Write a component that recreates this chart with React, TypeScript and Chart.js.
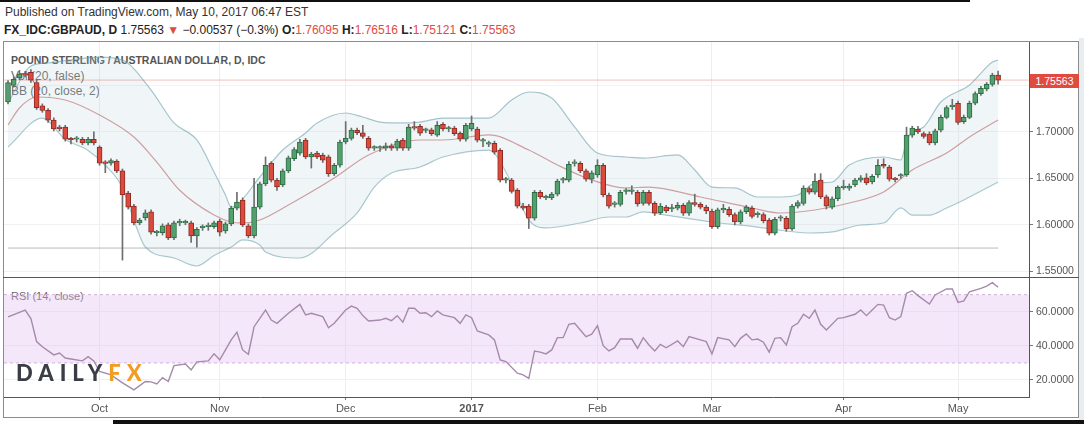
import { useEffect, useRef } from 'react';
import { Chart, registerables } from 'chart.js';
Chart.register(...registerables);

// ---------- DATA ----------
const opens = [
  1.732, 1.750, 1.758, 1.762, 1.764, 1.753, 1.728, 1.723, 1.7126, 1.704,
  1.705, 1.692, 1.692, 1.692, 1.688, 1.692, 1.6835, 1.6665, 1.6663, 1.6685,
  1.658, 1.634, 1.620, 1.602, 1.6075, 1.614, 1.5915, 1.5915, 1.600, 1.586,
  1.602, 1.602, 1.602, 1.588, 1.597, 1.598, 1.598, 1.604, 1.5935, 1.601,
  1.618, 1.6267, 1.599, 1.588, 1.619, 1.644, 1.6664, 1.648, 1.643, 1.658,
  1.671, 1.677, 1.691, 1.673, 1.677, 1.675, 1.673, 1.655, 1.664, 1.689,
  1.693, 1.7018, 1.699, 1.693, 1.6825, 1.6825, 1.6825, 1.685, 1.6825, 1.691,
  1.6825, 1.705, 1.706, 1.7015, 1.702, 1.6965, 1.708, 1.703, 1.704, 1.6985,
  1.692, 1.703, 1.703, 1.690, 1.6868, 1.6876, 1.680, 1.648, 1.648, 1.637,
  1.620, 1.620, 1.607, 1.635, 1.629, 1.629, 1.633, 1.648, 1.648, 1.666,
  1.666, 1.658, 1.649, 1.6535, 1.664, 1.632, 1.622, 1.622, 1.636, 1.636,
  1.635, 1.623, 1.635, 1.623, 1.613, 1.619, 1.617, 1.618, 1.621, 1.6125,
  1.624, 1.622, 1.619, 1.6147, 1.598, 1.616, 1.6165, 1.611, 1.603, 1.614,
  1.618, 1.611, 1.611, 1.605, 1.591, 1.607, 1.607, 1.5955, 1.620, 1.623,
  1.639, 1.635, 1.648, 1.630, 1.619, 1.628, 1.640, 1.6395, 1.643, 1.648,
  1.6505, 1.646, 1.6535, 1.665, 1.662, 1.649, 1.6525, 1.6535, 1.6965, 1.703,
  1.698, 1.6975, 1.688, 1.7018, 1.7155, 1.727, 1.7307, 1.711, 1.7155, 1.7307,
  1.741, 1.746, 1.751, 1.76095,
];
const highs = [
  1.755, 1.759, 1.766, 1.765, 1.767, 1.756, 1.730, 1.725, 1.715, 1.707,
  1.707, 1.694, 1.695, 1.694, 1.694, 1.700, 1.685, 1.669, 1.671, 1.670,
  1.660, 1.636, 1.622, 1.607, 1.616, 1.616, 1.594, 1.601, 1.602, 1.604,
  1.606, 1.605, 1.604, 1.597, 1.600, 1.602, 1.604, 1.606, 1.603, 1.620,
  1.635, 1.629, 1.601, 1.650, 1.646, 1.673, 1.668, 1.650, 1.660, 1.674,
  1.683, 1.692, 1.693, 1.678, 1.679, 1.677, 1.675, 1.666, 1.691, 1.711,
  1.704, 1.704, 1.707, 1.695, 1.685, 1.685, 1.688, 1.687, 1.692, 1.693,
  1.708, 1.711, 1.708, 1.704, 1.704, 1.711, 1.710, 1.706, 1.706, 1.700,
  1.709, 1.717, 1.705, 1.693, 1.690, 1.690, 1.682, 1.651, 1.650, 1.639,
  1.623, 1.622, 1.637, 1.637, 1.632, 1.635, 1.649, 1.651, 1.668, 1.670,
  1.668, 1.660, 1.658, 1.670, 1.666, 1.634, 1.625, 1.637, 1.639, 1.642,
  1.637, 1.637, 1.637, 1.625, 1.623, 1.621, 1.622, 1.624, 1.623, 1.626,
  1.633, 1.624, 1.621, 1.617, 1.618, 1.622, 1.619, 1.613, 1.616, 1.621,
  1.620, 1.614, 1.613, 1.607, 1.608, 1.610, 1.609, 1.622, 1.626, 1.642,
  1.641, 1.655, 1.655, 1.632, 1.630, 1.642, 1.648, 1.644, 1.650, 1.653,
  1.655, 1.654, 1.670, 1.671, 1.664, 1.651, 1.655, 1.705, 1.706, 1.706,
  1.700, 1.700, 1.703, 1.718, 1.728, 1.735, 1.733, 1.718, 1.733, 1.743,
  1.749, 1.753, 1.763, 1.76516,
];
const lows = [
  1.730, 1.748, 1.756, 1.759, 1.753, 1.724, 1.721, 1.710, 1.701, 1.701,
  1.690, 1.687, 1.689, 1.686, 1.686, 1.686, 1.664, 1.656, 1.664, 1.656,
  1.562, 1.617, 1.600, 1.600, 1.605, 1.590, 1.588, 1.589, 1.584, 1.584,
  1.599, 1.600, 1.581, 1.576, 1.594, 1.594, 1.596, 1.588, 1.591, 1.599,
  1.616, 1.598, 1.586, 1.586, 1.617, 1.642, 1.646, 1.637, 1.641, 1.656,
  1.669, 1.675, 1.671, 1.661, 1.671, 1.667, 1.652, 1.653, 1.662, 1.687,
  1.691, 1.697, 1.693, 1.680, 1.680, 1.679, 1.680, 1.680, 1.680, 1.680,
  1.680, 1.702, 1.696, 1.699, 1.696, 1.695, 1.701, 1.700, 1.696, 1.690,
  1.690, 1.701, 1.689, 1.684, 1.684, 1.676, 1.646, 1.645, 1.634, 1.618,
  1.616, 1.596, 1.605, 1.628, 1.627, 1.627, 1.631, 1.645, 1.646, 1.663,
  1.656, 1.647, 1.645, 1.651, 1.630, 1.618, 1.619, 1.620, 1.633, 1.633,
  1.620, 1.621, 1.621, 1.610, 1.611, 1.613, 1.614, 1.616, 1.610, 1.610,
  1.620, 1.617, 1.612, 1.596, 1.596, 1.613, 1.609, 1.600, 1.601, 1.612,
  1.607, 1.608, 1.602, 1.589, 1.589, 1.604, 1.593, 1.594, 1.618, 1.621,
  1.633, 1.633, 1.628, 1.617, 1.617, 1.626, 1.638, 1.637, 1.641, 1.646,
  1.643, 1.644, 1.651, 1.661, 1.647, 1.646, 1.650, 1.652, 1.694, 1.698,
  1.693, 1.686, 1.686, 1.700, 1.714, 1.724, 1.708, 1.709, 1.714, 1.729,
  1.739, 1.744, 1.749, 1.75121,
];
const closes = [
  1.753, 1.7565, 1.762, 1.761, 1.7555, 1.726, 1.723, 1.7126, 1.703, 1.7035,
  1.692, 1.6915, 1.692, 1.688, 1.692, 1.688, 1.6663, 1.666, 1.669, 1.658,
  1.632, 1.619, 1.602, 1.605, 1.613, 1.592, 1.5915, 1.599, 1.586, 1.602,
  1.602, 1.602, 1.588, 1.595, 1.597, 1.598, 1.602, 1.592, 1.601, 1.618,
  1.6245, 1.600, 1.588, 1.619, 1.644, 1.664, 1.648, 1.6406, 1.658, 1.672,
  1.681, 1.689, 1.673, 1.676, 1.673, 1.6696, 1.6546, 1.664, 1.689, 1.693,
  1.7018, 1.699, 1.695, 1.6825, 1.6825, 1.6825, 1.685, 1.6825, 1.690, 1.6825,
  1.705, 1.704, 1.6985, 1.702, 1.698, 1.707, 1.703, 1.703, 1.698, 1.692,
  1.707, 1.709, 1.691, 1.690, 1.6868, 1.678, 1.648, 1.648, 1.636, 1.620,
  1.618, 1.607, 1.635, 1.630, 1.629, 1.633, 1.647, 1.648, 1.665, 1.666,
  1.658, 1.649, 1.656, 1.664, 1.632, 1.620, 1.622, 1.635, 1.636, 1.636,
  1.6225, 1.635, 1.623, 1.6125, 1.620, 1.615, 1.617, 1.621, 1.6125, 1.624,
  1.622, 1.619, 1.615, 1.598, 1.616, 1.616, 1.611, 1.603, 1.614, 1.619,
  1.609, 1.611, 1.6045, 1.591, 1.606, 1.607, 1.5955, 1.620, 1.624, 1.6395,
  1.635, 1.647, 1.630, 1.620, 1.628, 1.6405, 1.640, 1.6415, 1.648, 1.6505,
  1.645, 1.652, 1.664, 1.663, 1.649, 1.6485, 1.653, 1.6965, 1.704, 1.700,
  1.695, 1.688, 1.701, 1.7155, 1.726, 1.728, 1.710, 1.7155, 1.7307, 1.741,
  1.7468, 1.751, 1.761, 1.75563,
];

const bbUpperIdx = [0, 4, 7, 16, 20, 25, 29, 33, 36, 38, 39, 40, 44, 48, 52, 54, 59, 62, 65, 69, 72, 76, 84, 88, 91, 95, 99, 103, 108, 111, 117, 120, 123, 127, 131, 135, 138, 141, 144, 147, 153, 156, 157, 158, 160, 163, 168, 172, 173];
const bbUpperVal = [1.731, 1.7708, 1.774, 1.7804, 1.7772, 1.7449, 1.7095, 1.6912, 1.6568, 1.632, 1.6191, 1.6213, 1.6514, 1.6804, 1.6987, 1.7095, 1.7202, 1.7159, 1.7105, 1.7095, 1.7105, 1.7148, 1.7148, 1.7342, 1.7428, 1.7363, 1.7052, 1.6772, 1.6729, 1.6718, 1.6751, 1.6589, 1.6406, 1.6396, 1.6299, 1.6299, 1.632, 1.6449, 1.646, 1.6643, 1.6729, 1.6697, 1.690, 1.700, 1.7052, 1.732, 1.7503, 1.775, 1.7772];

const bbMiddleIdx = [0, 2, 5, 10, 16, 22, 26, 30, 36, 39, 41, 44, 49, 57, 63, 72, 76, 84, 91, 96, 102, 108, 112, 121, 130, 135, 141, 147, 153, 158, 164, 168, 173];
const bbMiddleVal = [1.7073, 1.7256, 1.7374, 1.7342, 1.7181, 1.6944, 1.6675, 1.6372, 1.6105, 1.603, 1.602, 1.6052, 1.6213, 1.6503, 1.6751, 1.6912, 1.6912, 1.6966, 1.6804, 1.6643, 1.6482, 1.6396, 1.6406, 1.6299, 1.6181, 1.6127, 1.6159, 1.6234, 1.6353, 1.6589, 1.6772, 1.6944, 1.7127];

const bbLowerIdx = [0, 6, 10, 14, 17, 20, 22, 24, 29, 33, 36, 39, 41, 44, 45, 51, 57, 61, 64, 67, 72, 76, 84, 88, 91, 94, 100, 105, 108, 111, 115, 123, 131, 140, 144, 149, 153, 156, 158, 161, 164, 167, 173];
const bbLowerVal = [1.6837, 1.7148, 1.692, 1.680, 1.664, 1.640, 1.605, 1.5761, 1.5643, 1.5557, 1.567, 1.5761, 1.5837, 1.5783, 1.5708, 1.5643, 1.5912, 1.6127, 1.6406, 1.6557, 1.6622, 1.6729, 1.6804, 1.6449, 1.6052, 1.5966, 1.6019, 1.6084, 1.6084, 1.6138, 1.6105, 1.603, 1.5976, 1.5912, 1.5923, 1.5998, 1.6019, 1.6181, 1.6105, 1.6105, 1.6181, 1.6267, 1.646];

const volLevel = [1.575];

const rsiIdx = [0, 3, 4, 5, 6, 8, 9, 10, 11, 13, 14, 15, 16, 18, 20, 22, 24, 25, 26, 27, 28, 29, 31, 32, 33, 35, 36, 37, 39, 40, 41, 42, 43, 45, 46, 47, 49, 51, 52, 53, 55, 56, 57, 59, 60, 61, 62, 63, 65, 66, 67, 68, 69, 70, 71, 72, 73, 74, 75, 76, 78, 79, 80, 81, 82, 84, 85, 86, 87, 89, 90, 91, 92, 93, 94, 95, 96, 97, 98, 99, 101, 102, 103, 104, 105, 106, 107, 109, 110, 111, 112, 113, 114, 115, 117, 118, 119, 121, 122, 123, 124, 126, 127, 128, 129, 130, 131, 132, 133, 134, 135, 136, 137, 138, 139, 140, 141, 142, 143, 145, 146, 148, 149, 150, 151, 152, 153, 154, 155, 156, 157, 158, 159, 161, 162, 164, 165, 166, 167, 168, 170, 171, 172, 173];
const rsiVal = [57, 61, 56, 42.5, 39.5, 34.7, 35.8, 32.9, 32.3, 31.2, 33.7, 31.2, 25, 23, 18.3, 14.2, 19.1, 18.9, 17.7, 21.4, 19.1, 28.4, 29.4, 25.9, 30.6, 31.2, 35.3, 31.8, 43.5, 48, 37.6, 35.1, 51.2, 61, 55.1, 53.2, 59.1, 64.3, 58.1, 59.1, 57.1, 50.6, 53.2, 61, 63.3, 62, 57.7, 54.6, 55.1, 56.1, 54.7, 57.7, 53.8, 62, 62, 59.1, 59.4, 57.1, 60.4, 58.1, 56.5, 53.2, 58.1, 56.5, 48.7, 46.4, 43.5, 31.8, 30.8, 24, 23, 21, 37, 36.3, 35.3, 37.6, 44.8, 44.8, 52.6, 53.2, 45.4, 46.8, 51.8, 40.1, 37, 38.9, 44, 44, 38.6, 44.8, 40.5, 37, 40.9, 38.9, 42.9, 39.5, 45.4, 43.5, 42.5, 35.3, 44.8, 43.5, 39.5, 44.4, 47, 43.5, 44, 42.1, 36.3, 44.4, 44.8, 40.5, 51.2, 53.2, 58.5, 56.1, 61, 52.6, 49.3, 56.1, 56.5, 58.5, 61, 57.7, 61, 64.3, 63.9, 56.5, 55.1, 57.1, 70.8, 72.3, 69.4, 64.5, 69.8, 73.3, 73.3, 65.5, 66.3, 71.7, 73.7, 75, 77, 74.3];
const rsiBands = [70, 30];

const monthTickIdx = [16, 37, 59, 81, 103, 123, 146, 166];
const monthTickLabels = ['Oct', 'Nov', 'Dec', '2017', 'Feb', 'Mar', 'Apr', 'May'];
const priceTicks = [1.55, 1.6, 1.65, 1.7, 1.75];
const rsiTicks = [20, 40, 60];

const symbol = 'FX_IDC:GBPAUD, D';
const title = 'POUND STERLING / AUSTRALIAN DOLLAR, D, IDC';
const published = 'Published on TradingView.com, May 10, 2017 06:47 EST';

// ---------- STYLE ----------
const FONT = '"Liberation Sans", Arial, sans-serif';
const X_MIN = -0.7;
const X_MAX = 178.4;
const UP = '#53a06f';
const UP_B = '#2d6b45';
const DOWN = '#dc4a3d';
const DOWN_B = '#8e2a22';
const RED = '#df4b3f';

const n = closes.length;
const barIdx = closes.map((_, i) => i);
const last = n - 1;
const change = closes[last] - closes[last - 1];
const pct = (change / closes[last - 1]) * 100;
const minus = (s: string) => s.replace('-', '\u2212');

function xScale(showLabels: boolean): any {
  return {
    type: 'linear',
    min: X_MIN,
    max: X_MAX,
    offset: false,
    grid: {
      offset: false,
      color: '#eceef1',
      drawTicks: showLabels,
      tickLength: 3,
      tickColor: '#777',
    },
    border: { display: showLabels, color: '#555' },
    ticks: {
      display: showLabels,
      autoSkip: false,
      maxRotation: 0,
      padding: 2,
      color: '#555',
      font: (ctx: any) => ({
        size: 11,
        family: FONT,
        weight: monthTickLabels[ctx.index] === '2017' ? 'bold' : 'normal',
      }),
      callback: (_v: any, i: number) => monthTickLabels[i],
    },
    afterBuildTicks: (s: any) => {
      s.ticks = monthTickIdx.map((v) => ({ value: v }));
    },
    afterFit: (s: any) => {
      s.height = showLabels ? 21 : 0;
      s.paddingLeft = 0;
      s.paddingRight = 0;
    },
  };
}

function yScale(min: number, max: number, ticks: number[], digits: number): any {
  return {
    type: 'linear',
    position: 'right',
    min,
    max,
    grid: { color: '#f0f1f3', tickLength: 4, tickColor: '#777' },
    border: { display: true, color: '#555' },
    ticks: {
      color: '#555',
      padding: 3,
      font: { size: 10.5, family: FONT },
      callback: (v: number) => Number(v).toFixed(digits),
    },
    afterBuildTicks: (s: any) => {
      s.ticks = ticks.map((v) => ({ value: v }));
    },
    afterFit: (s: any) => {
      s.width = 50;
      s.paddingTop = 0;
      s.paddingBottom = 0;
    },
  };
}

const pts = (idx: number[], val: number[]) => idx.map((x, i) => ({ x, y: val[i] }));

function priceConfig(): any {
  const isUp = (i: number) => closes[i] >= opens[i];
  return {
    type: 'bar',
    data: {
      datasets: [
        {
          type: 'bar',
          order: 0,
          data: barIdx.map((i) => ({ x: i, y: [opens[i], closes[i]] })),
          backgroundColor: barIdx.map((i) => (isUp(i) ? UP : DOWN)),
          borderColor: barIdx.map((i) => (isUp(i) ? UP_B : DOWN_B)),
          borderWidth: 1,
          borderSkipped: false,
          barThickness: 5,
          minBarLength: 1.5,
          grouped: false,
        },
        {
          type: 'bar',
          order: 1,
          data: barIdx.map((i) => ({ x: i, y: [lows[i], highs[i]] })),
          backgroundColor: '#6e6e6e',
          borderWidth: 0,
          barThickness: 1,
          grouped: false,
        },
        {
          type: 'line',
          order: 3,
          data: [
            { x: X_MIN, y: closes[last] },
            { x: X_MAX, y: closes[last] },
          ],
          borderColor: 'rgba(223,75,63,0.35)',
          borderWidth: 1,
          pointRadius: 0,
          fill: false,
        },
        {
          type: 'line',
          order: 4,
          data: [
            { x: 0, y: volLevel[0] },
            { x: last, y: volLevel[0] },
          ],
          borderColor: 'rgba(140,140,140,0.6)',
          borderWidth: 1,
          pointRadius: 0,
          fill: false,
        },
        {
          type: 'line',
          order: 5,
          data: pts(bbMiddleIdx, bbMiddleVal),
          borderColor: 'rgba(185,100,100,0.6)',
          borderWidth: 1.2,
          pointRadius: 0,
          cubicInterpolationMode: 'monotone',
          fill: false,
        },
        {
          type: 'line',
          order: 7,
          data: pts(bbLowerIdx, bbLowerVal),
          borderColor: 'rgba(110,160,172,0.6)',
          borderWidth: 1.2,
          pointRadius: 0,
          cubicInterpolationMode: 'monotone',
          fill: false,
        },
        {
          type: 'line',
          order: 6,
          data: pts(bbUpperIdx, bbUpperVal),
          borderColor: 'rgba(110,160,172,0.6)',
          borderWidth: 1.2,
          pointRadius: 0,
          cubicInterpolationMode: 'monotone',
          fill: '-1',
          backgroundColor: 'rgba(178,212,222,0.2)',
        },
      ],
    },
    options: {
      animation: false,
      responsive: false,
      maintainAspectRatio: false,
      layout: { padding: 0 },
      plugins: {
        legend: { display: false },
        tooltip: { enabled: false },
        filler: { propagate: false },
      },
      scales: {
        x: xScale(false),
        y: yScale(1.54387, 1.79656, priceTicks, 5),
      },
    },
  };
}

function rsiConfig(): any {
  return {
    type: 'line',
    data: {
      datasets: [
        {
          order: 0,
          data: pts(rsiIdx, rsiVal),
          borderColor: '#a58aaa',
          borderWidth: 1.4,
          pointRadius: 0,
          fill: false,
        },
        {
          order: 5,
          data: [
            { x: X_MIN, y: rsiBands[0] },
            { x: X_MAX, y: rsiBands[0] },
          ],
          borderColor: '#cdb2d6',
          borderDash: [3, 3],
          borderWidth: 1,
          pointRadius: 0,
          fill: '+1',
          backgroundColor: 'rgba(226,186,240,0.35)',
        },
        {
          order: 6,
          data: [
            { x: X_MIN, y: rsiBands[1] },
            { x: X_MAX, y: rsiBands[1] },
          ],
          borderColor: '#cdb2d6',
          borderDash: [3, 3],
          borderWidth: 1,
          pointRadius: 0,
          fill: false,
        },
      ],
    },
    options: {
      animation: false,
      responsive: false,
      maintainAspectRatio: false,
      layout: { padding: 0 },
      plugins: {
        legend: { display: false },
        tooltip: { enabled: false },
        filler: { propagate: false },
      },
      scales: {
        x: xScale(true),
        y: yScale(10.04, 79.74, rsiTicks, 4),
      },
    },
  };
}

const abs = (s: any): any => ({ position: 'absolute', ...s });

export default function App() {
  const priceRef = useRef<HTMLCanvasElement>(null);
  const rsiRef = useRef<HTMLCanvasElement>(null);

  useEffect(() => {
    const c1 = new Chart(priceRef.current as HTMLCanvasElement, priceConfig());
    const c2 = new Chart(rsiRef.current as HTMLCanvasElement, rsiConfig());
    return () => {
      c1.destroy();
      c2.destroy();
    };
  }, []);

  const redVal = { color: RED };
  return (
    <div
      style={abs({
        left: 0,
        top: 0,
        width: 1084,
        height: 424,
        overflow: 'hidden',
        background: '#ffffff',
        fontFamily: FONT,
      })}
    >
      <div style={abs({ left: 0, top: 0, width: 970, height: 2, background: '#111' })} />
      <div style={abs({ left: 5, top: 5, fontSize: 12, lineHeight: '14px', color: '#333', whiteSpace: 'nowrap' })}>
        {published}
      </div>
      <div style={abs({ left: 4, top: 23, fontSize: 12, lineHeight: '14px', color: '#222', whiteSpace: 'nowrap' })}>
        <b>{symbol}</b> {closes[last].toFixed(5)} <span style={redVal}>▼</span>{' '}
        {minus(change.toFixed(5))} ({minus(pct.toFixed(1))}%) <b>O:</b>
        <span style={redVal}>{opens[last].toFixed(5)}</span> <b>H:</b>
        <span style={redVal}>{highs[last].toFixed(5)}</span> <b>L:</b>
        <span style={redVal}>{lows[last].toFixed(5)}</span> <b>C:</b>
        <span style={redVal}>{closes[last].toFixed(5)}</span>
      </div>

      <div
        style={abs({
          left: 3,
          top: 41,
          width: 1076,
          height: 377,
          border: '1px solid #8c8c8c',
          boxSizing: 'border-box',
        })}
      />
      <div style={abs({ left: 1079, top: 38, width: 5, height: 386, background: '#e8edf1' })} />

      <div style={abs({ left: 11, top: 54, fontSize: 10.5, fontWeight: 'bold', color: '#555', lineHeight: '12px', whiteSpace: 'nowrap' })}>
        {title}
      </div>
      <div style={abs({ left: 11, top: 69, fontSize: 12, color: '#666', lineHeight: '14px', whiteSpace: 'nowrap' })}>
        Vol (20, false)
      </div>
      <div style={abs({ left: 11, top: 84, fontSize: 12, color: '#666', lineHeight: '14px', whiteSpace: 'nowrap' })}>
        BB (20, close, 2)
      </div>
      <div style={abs({ left: 11, top: 290, fontSize: 11, color: '#666', lineHeight: '13px', whiteSpace: 'nowrap' })}>
        RSI (14, close)
      </div>

      <canvas ref={priceRef} width={1075} height={235} style={abs({ left: 4, top: 42, width: 1075, height: 235 })} />
      <canvas ref={rsiRef} width={1075} height={140} style={abs({ left: 4, top: 278, width: 1075, height: 140 })} />

      <div style={abs({ left: 3, top: 277, width: 1076, height: 1, background: '#555' })} />

      <div
        style={abs({
          left: 1030,
          top: 74,
          width: 49,
          height: 14,
          background: RED,
          color: '#fff',
          fontSize: 10.5,
          lineHeight: '14px',
          textAlign: 'center',
        })}
      >
        {closes[last].toFixed(5)}
      </div>

      <div
        style={abs({
          left: 16,
          top: 360,
          fontFamily: 'Lato, "Open Sans", sans-serif',
          fontWeight: 900,
          fontSize: 22,
          letterSpacing: 6,
          lineHeight: '26px',
          whiteSpace: 'nowrap',
        })}
      >
        <span style={{ color: '#3a3d45' }}>DAILY</span>
        <span style={{ color: '#f39c1f' }}>FX</span>
      </div>

      <div style={abs({ left: 113, top: 420, width: 971, height: 4, background: '#111' })} />
    </div>
  );
}
